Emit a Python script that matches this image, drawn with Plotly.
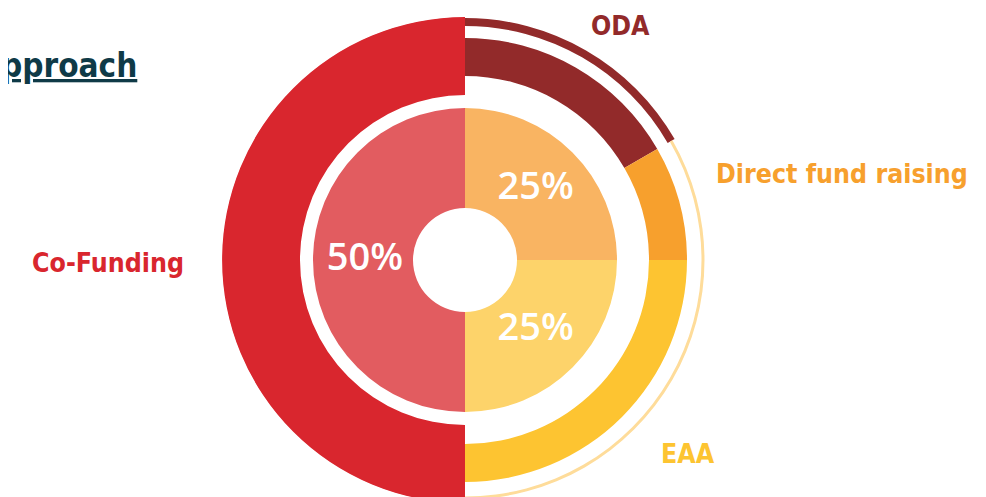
import plotly.graph_objects as go

# outer ring (funding sources), clockwise from 12 o'clock, percent of circle
outer_labels = ["ODA", "Direct fund raising", "EAA", "Co-Funding"]
outer_shares = [16.67, 8.33, 25, 50]
outer_colors = ["#922A2A", "#F7A02D", "#FDC431", "#D9262E"]

# inner ring
inner_shares = [25, 25, 50]
inner_colors = ["#F9B462", "#FDD36A", "#E25C60"]

# thin outermost arc
arc_shares = [16.67, 33.33]
arc_colors = ["#922A2A", "#FEDC9A"]


def angles(shares, start=0):
    widths = [s * 3.6 for s in shares]
    centers = []
    a = start
    for w in widths:
        centers.append(a + w / 2)
        a += w
    return centers, widths


W, H = 986, 497
OFF = 8      # page body margin shifts the plot by this much
R = 243.5    # polar radius in px
CX, CY = 465 - OFF, 260 - OFF

fig = go.Figure()

t, w = angles(inner_shares)
fig.add_trace(go.Barpolar(theta=t, width=w, base=[52] * 3, r=[100] * 3,
                          marker=dict(color=inner_colors, line=dict(width=0)),
                          hoverinfo="skip"))

t, w = angles(outer_shares)
fig.add_trace(go.Barpolar(theta=t, width=w, base=[184, 184, 184, 165], r=[38, 38, 38, 78],
                          marker=dict(color=outer_colors, line=dict(width=0)),
                          hoverinfo="skip"))

t, w = angles(arc_shares)
fig.add_trace(go.Barpolar(theta=t, width=w, base=[234, 236.5], r=[8, 3],
                          marker=dict(color=arc_colors, line=dict(width=0)),
                          hoverinfo="skip"))

t, w = angles(inner_shares)
fig.add_trace(go.Scatterpolar(theta=t, r=[100] * 3, mode="text",
                              text=[f"{v}%" for v in inner_shares],
                              textfont=dict(family="Open Sans", size=38, color="white", weight=600),
                              hoverinfo="skip"))

fig.update_layout(
    width=W, height=H,
    margin=dict(l=0, r=0, t=0, b=0),
    paper_bgcolor="white",
    showlegend=False,
    polar=dict(
        domain=dict(x=[(CX - R) / W, (CX + R) / W],
                    y=[(H - CY - R) / H, (H - CY + R) / H]),
        bgcolor="white",
        bargap=0,
        radialaxis=dict(range=[0, R], visible=False),
        angularaxis=dict(rotation=90, direction="clockwise", visible=False),
    ),
)

lab_font = "DejaVu Sans Condensed, DejaVu Sans"
label_pos = {
    "ODA": (620, 25, "center"),
    "Direct fund raising": (714, 173, "left"),
    "EAA": (688, 453, "center"),
    "Co-Funding": (108, 262, "center"),
}
for name, col in zip(outer_labels, outer_colors):
    x, y, anc = label_pos[name]
    fig.add_annotation(x=(x - OFF) / W, y=1 - (y - OFF) / H, xref="paper", yref="paper",
                       text=f"<b>{name}</b>", showarrow=False, xanchor=anc, yanchor="middle",
                       font=dict(family=lab_font, size=26.5, color=col))

fig.add_annotation(x=(139 - OFF) / W, y=1 - (66 - OFF) / H, xref="paper", yref="paper",
                   text="<b>Approach</b>", showarrow=False, xanchor="right", yanchor="middle",
                   font=dict(family=lab_font, size=33, color="#0F3A47", lineposition="under"))

fig.write_html("out.html")
